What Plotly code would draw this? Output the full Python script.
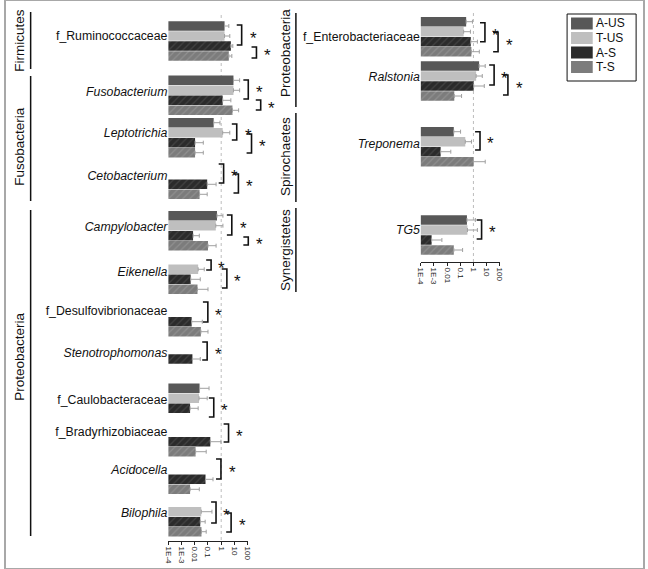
import plotly.graph_objects as go

# ---------------- data ----------------
groups = ['A-US', 'T-US', 'A-S', 'T-S']

left_taxa = ['f_Ruminococcaceae', '<i>Fusobacterium</i>', '<i>Leptotrichia</i>', '<i>Cetobacterium</i>',
             '<i>Campylobacter</i>', '<i>Eikenella</i>', 'f_Desulfovibrionaceae', '<i>Stenotrophomonas</i>',
             'f_Caulobacteraceae', 'f_Bradyrhizobiaceae', '<i>Acidocella</i>', '<i>Bilophila</i>']
right_taxa = ['f_Enterobacteriaceae', '<i>Ralstonia</i>', '<i>Treponema</i>', '<i>TG5</i>']

# mean relative abundance (%)
left_a_us = [1.8, 8.5, 0.27, None, 0.48, None, None, None, 0.023, None, None, None]
left_t_us = [1.8, 8.5, 1.3, None, 0.39, 0.018, None, None, 0.021, None, None, 0.031]
left_a_s = [5.4, 1.3, 0.0105, 0.087, 0.0074, 0.0049, 0.0058, 0.0066, 0.0044, 0.15, 0.065, 0.026]
left_t_s = [3.8, 7.2, 0.0105, 0.023, 0.10, 0.016, 0.029, None, None, 0.0115, 0.0044, 0.032]

right_a_us = [0.28, 2.7, 0.032, 0.32]
right_t_us = [0.18, 1.6, 0.24, 0.35]
right_a_s = [0.63, 1.05, 0.0032, 0.00066]
right_t_s = [0.7, 0.035, 1.0, 0.032]

# upper end of error bars
left_a_us_hi = [3.8, 25, 0.81, None, 1.35, None, None, None, 0.12, None, None, None]
left_t_us_hi = [4.5, 25, 4.5, None, 1.35, 0.052, None, None, 0.087, None, None, 0.20]
left_a_s_hi = [7.6, 5.4, 0.044, 0.41, 0.022, 0.026, 0.037, 0.026, 0.018, 0.96, 0.24, 0.061]
left_t_s_hi = [6.4, 21, 0.044, 0.087, 0.41, 0.10, 0.10, None, None, 0.073, 0.022, 0.073]

right_a_us_hi = [0.84, 7.9, 0.105, 1.4]
right_t_us_hi = [0.59, 4.7, 0.71, 2.0]
right_a_s_hi = [2.0, 6.7, 0.019, 0.004]
right_t_s_hi = [2.8, 0.125, 7.9, 0.15]

x_ticks = [1e-4, 1e-3, 0.01, 0.1, 1, 10, 100]
x_tick_text = ['1E-4', '1E-3', '0.01', '0.1', '1', '10', '100']

left_phyla = ['Firmicutes', 'Fusobacteria', 'Proteobacteria']
right_phyla = ['Proteobacteria', 'Spirochaetes', 'Synergistetes']

# ---------------- layout (pixels) ----------------
W, H = 648, 569
FONT = 'Arial, Liberation Sans, sans-serif'
SLOT = 10

left_row_top = [21, 75.3, 117.7, 159.3, 210.7, 254.3, 296.7, 334, 383.3, 416.7, 454.3, 496.7]
left_label_y = [36, 92, 133, 176, 227, 272, 311, 353, 400, 432, 470, 513]
right_row_top = [16.7, 61, 126.7, 215]
right_label_y = [37, 77, 144, 230]

left_phyla_lines = [(12, 69), (76, 201), (210, 536)]
left_phyla_mid = [40, 146, 357]
right_phyla_lines = [(13, 107), (113, 202), (208, 292)]
right_phyla_mid = [53, 157, 250]

# (y top, y bottom, bracket x, asterisk x)
left_brackets = [(25, 45, 240, 246), (47, 58, 255, 261),
                 (80, 99, 246.7, 253), (100, 110, 259.3, 265),
                 (124, 140, 235, 241), (134, 153, 250, 256),
                 (164, 183, 221.7, 227), (174, 193, 236.7, 242),
                 (215, 235, 230, 236), (237, 245, 246.7, 252),
                 (260, 270, 209, 214), (269, 288, 225, 230),
                 (302, 322, 205.7, 211), (342, 360, 205, 211),
                 (398, 417, 211.7, 217), (424, 442, 226.7, 232),
                 (459, 479, 219, 225),
                 (502, 523, 214, 219.5), (513, 532, 229.3, 235)]
right_brackets = [(22.7, 41.7, 486.7, 492), (32.3, 51.7, 500, 506),
                  (65, 85, 496, 501), (75, 95, 510, 516),
                  (131.7, 150, 481.7, 487), (220, 239, 483.3, 489)]

styles = {
    'A-US': dict(color='#585858'),
    'T-US': dict(color='#bfbfbf'),
    'A-S': dict(color='#2b2b2b', pattern=dict(shape='/', fgcolor='#5a5a5a', bgcolor='#2b2b2b', size=5, solidity=0.25)),
    'T-S': dict(color='#7c7c7c', pattern=dict(shape='/', fgcolor='#a2a2a2', bgcolor='#7c7c7c', size=5, solidity=0.25)),
}

legend_box = (570, 14, 640, 81)
legend_rows = [23.5, 38, 52.5, 67]


def px(x):
    return x / W


def py(y):
    return 1 - y / H


fig = go.Figure()

panels = [
    ('x', 'y', left_row_top, [left_a_us, left_t_us, left_a_s, left_t_s],
     [left_a_us_hi, left_t_us_hi, left_a_s_hi, left_t_s_hi]),
    ('x2', 'y2', right_row_top, [right_a_us, right_t_us, right_a_s, right_t_s],
     [right_a_us_hi, right_t_us_hi, right_a_s_hi, right_t_s_hi]),
]

for xa, ya, tops, series, highs in panels:
    for k, g in enumerate(groups):
        vals = series[k]
        errs = [None if v is None else h - v for v, h in zip(vals, highs[k])]
        fig.add_trace(go.Bar(
            x=vals, y=[t + SLOT * (k + 0.5) for t in tops],
            orientation='h', width=SLOT - 0.6, name=g, showlegend=False,
            xaxis=xa, yaxis=ya,
            marker=dict(line=dict(width=0), **styles[g]),
            error_x=dict(type='data', array=errs, arrayminus=[0] * len(vals), symmetric=False,
                         color='#a0a0a0', thickness=1, width=2),
        ))

xcommon = dict(type='log', range=[-4, 2], tickvals=x_ticks, ticktext=x_tick_text, tickangle=90,
               tickfont=dict(size=8, family=FONT, color='#222'), showgrid=False, zeroline=False,
               showline=True, linecolor='#222', linewidth=1, ticks='outside', ticklen=3,
               tickcolor='#222', fixedrange=True)
ycommon = dict(showgrid=False, zeroline=False, showline=False, ticks='',
               tickfont=dict(size=12.3, family=FONT, color='#111'), fixedrange=True)

fig.update_layout(
    width=W, height=H, margin=dict(l=0, r=0, t=0, b=0),
    paper_bgcolor='white', plot_bgcolor='rgba(0,0,0,0)',
    barmode='overlay', showlegend=False,
    xaxis=dict(domain=[px(165.7), px(246)], anchor='y', **xcommon),
    yaxis=dict(domain=[py(541), py(8)], range=[541, 8], anchor='x',
               tickvals=left_label_y, ticktext=left_taxa, **ycommon),
    xaxis2=dict(domain=[px(421.7), px(501.7)], anchor='y2', **xcommon),
    yaxis2=dict(domain=[py(262), py(8)], range=[262, 8], anchor='x2',
                tickvals=right_label_y, ticktext=right_taxa, **ycommon),
)

shapes = []
annotations = []

# dotted grid lines at each inner decade
for xa, y0, y1 in [('x', 15, 541), ('x2', 13, 262)]:
    for d in [-3, -2, -1, 0, 1]:
        shapes.append(dict(type='line', xref=xa, yref='y' if xa == 'x' else 'y2', x0=d, x1=d, y0=y0, y1=y1,
                           line=dict(color='#bdbdbd', width=1, dash='dot'), layer='below'))

# phylum labels with vertical rules
for names, lines, mids, lx, tx in [(left_phyla, left_phyla_lines, left_phyla_mid, 26, 14),
                                   (right_phyla, right_phyla_lines, right_phyla_mid, 295, 284)]:
    for name, (a, b), m in zip(names, lines, mids):
        shapes.append(dict(type='line', xref='paper', yref='y', x0=px(lx), x1=px(lx), y0=a, y1=b,
                           line=dict(color='#111', width=1.5)))
        annotations.append(dict(text=name, xref='paper', yref='y', x=px(tx), y=m, textangle=-90,
                                xanchor='center', yanchor='middle', showarrow=False,
                                font=dict(size=13.5, family=FONT, color='#111')))

# significance brackets
for ya, brackets in [('y', left_brackets), ('y2', right_brackets)]:
    for y0, y1, bx, ax in brackets:
        path = 'M {a},{t} L {b},{t} L {b},{u} L {a},{u}'.format(
            a=px(bx - 5), b=px(bx), t=py(y0), u=py(y1))
        shapes.append(dict(type='path', xref='paper', yref='paper', path=path,
                           line=dict(color='#111', width=1.6)))
        annotations.append(dict(text='*', xref='paper', yref=ya, x=px(ax), y=(y0 + y1) / 2 + 3,
                                xanchor='left', showarrow=False,
                                font=dict(size=17, family=FONT, color='#111')))

# legend box
lx0, ly0, lx1, ly1 = legend_box
shapes.append(dict(type='rect', xref='paper', yref='paper', x0=px(lx0), x1=px(lx1), y0=py(ly0), y1=py(ly1),
                   line=dict(color='#111', width=1), fillcolor='white'))
for g, cy in zip(groups, legend_rows):
    shapes.append(dict(type='rect', xref='paper', yref='paper', x0=px(574), x1=px(596),
                       y0=py(cy - 6), y1=py(cy + 6), line=dict(width=0), fillcolor=styles[g]['color']))
    annotations.append(dict(text=g, xref='paper', yref='paper', x=px(597), y=py(cy), xanchor='left',
                            yanchor='middle', showarrow=False, font=dict(size=12, family=FONT, color='#111')))

# figure frame
shapes.append(dict(type='rect', xref='paper', yref='paper', x0=0, x1=1, y0=0, y1=1,
                   line=dict(color='#a8a8a8', width=2)))

fig.update_layout(shapes=shapes, annotations=annotations)
fig.write_html('out.html', config={'displayModeBar': False},
               post_script="document.body.style.margin='0';")
